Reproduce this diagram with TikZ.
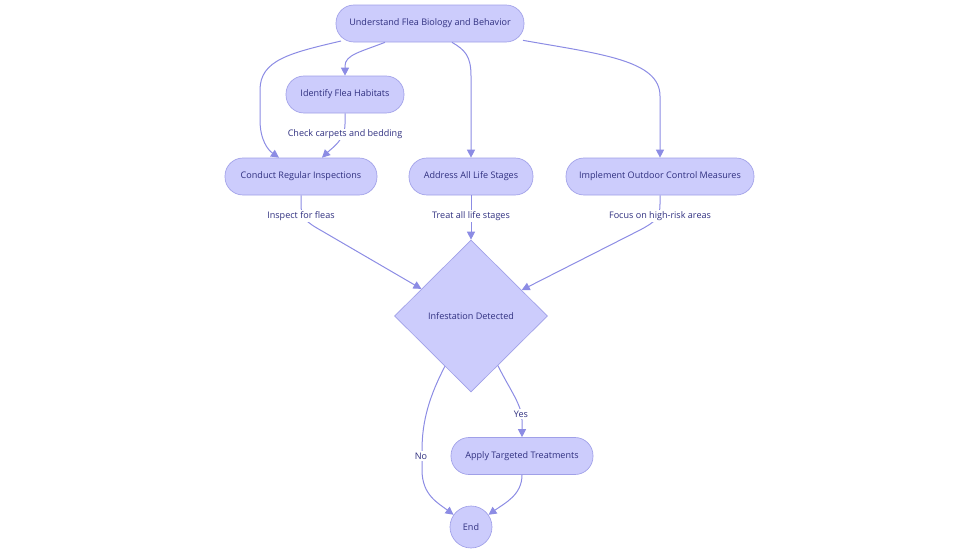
\documentclass[tikz,border=0pt]{standalone}
\usepackage{fontspec}
\setmainfont{Open Sans}
\usetikzlibrary{shapes.geometric,arrows.meta,calc}
\definecolor{nodefill}{RGB}{204,204,252}
\definecolor{nodedraw}{RGB}{160,160,232}
\definecolor{edgecol}{RGB}{140,140,228}
\definecolor{txtcol}{RGB}{48,48,128}
\tikzset{
  box/.style={draw=nodedraw, fill=nodefill, rounded corners=13.5pt, minimum height=27.75pt, inner sep=0pt, text=txtcol, font=\fontsize{6.8pt}{8pt}\selectfont, line width=0.5pt},
  decision/.style={diamond, draw=nodedraw, fill=nodefill, minimum width=114.75pt, minimum height=114pt, inner sep=0pt, text=txtcol, font=\fontsize{6.8pt}{8pt}\selectfont, line width=0.5pt},
  endnode/.style={circle, draw=nodedraw, fill=nodefill, minimum size=31.5pt, inner sep=0pt, text=txtcol, font=\fontsize{6.8pt}{8pt}\selectfont, line width=0.5pt},
  conn/.style={draw=edgecol, line width=0.75pt, -{Triangle[length=6pt,width=6pt]}},
  lbl/.style={fill=white, text=txtcol, inner sep=1pt, font=\fontsize{6.8pt}{8pt}\selectfont},
}
\begin{document}
\begin{tikzpicture}[x=0.75pt,y=-0.75pt]
\useasboundingbox (0,0) rectangle (980,553);
\node[box, minimum width=141pt] (u) at (430,23.5) {Understand Flea Biology and Behavior};
\node[box, minimum width=88.5pt] (i) at (345,94.5) {Identify Flea Habitats};
\node[box, minimum width=114pt] (c) at (301,176.5) {Conduct Regular Inspections};
\node[box, minimum width=93pt] (a) at (471,176.5) {Address All Life Stages};
\node[box, minimum width=141pt] (m) at (660,176.5) {Implement Outdoor Control Measures};
\node[decision] (d) at (471,316) {Infestation Detected};
\node[box, minimum width=106.5pt] (ap) at (522,456) {Apply Targeted Treatments};
\node[endnode] (e) at (471,527) {End};

% Understand -> Identify
\draw[conn] ([xshift=-33.75pt]u.south) .. controls (360,52) and (345,55) .. (345,66) -- (i.north);
% Understand -> Conduct
\draw[conn] ([xshift=-66.75pt,yshift=1pt]u.south) .. controls (290,53) and (260,60) .. (260,90) -- (260,120) .. controls (260,140) and (268,150) .. ([xshift=-16.5pt]c.north);
% Understand -> Address
\draw[conn] ([xshift=16.5pt]u.south) .. controls (465,50) and (471,56) .. (471,76) -- (a.north);
% Understand -> Implement
\draw[conn] ([xshift=69.75pt,yshift=1.5pt]u.south) .. controls (600,54) and (660,60) .. (660,96) -- (m.north);
% Identify -> Conduct
\draw[conn] (i.south) -- (345,124) .. controls (345,140) and (332,148) .. ([xshift=15.75pt]c.north);
\node[lbl] (l1) at (345,134.5) {Check carpets and bedding};
% Conduct -> Decision
\draw[conn] (c.south) -- (301,204) .. controls (301,218) and (306,222) .. (322,231) -- ($(d.west)!0.355!(d.north)$);
\node[lbl] (l2) at (301,216) {Inspect for fleas};
% Address -> Decision
\draw[conn] (a.south) -- (d.north);
\node[lbl] (l3) at (471,216) {Treat all life stages};
% Implement -> Decision
\draw[conn] (m.south) -- (660,204) .. controls (660,218) and (655,222) .. (640,230) -- ($(d.north)!0.66!(d.east)$);
\node[lbl] (l4) at (660,216) {Focus on high-risk areas};
% Decision -> End (No)
\draw[conn] ($(d.west)!0.66!(d.south)$) .. controls (430,395) and (422,420) .. (422,450) -- (422,470) .. controls (422,495) and (438,503) .. (e.145);
\node[lbl] (l5) at (421,456) {No};
% Decision -> Apply (Yes)
\draw[conn] ($(d.east)!0.65!(d.south)$) .. controls (510,390) and (522,405) .. (522,420) -- (ap.north);
\node[lbl] (l6) at (521,414) {Yes};
% Apply -> End
\draw[conn] (ap.south) .. controls (522,495) and (505,503) .. (e.35);
\end{tikzpicture}
\end{document}
